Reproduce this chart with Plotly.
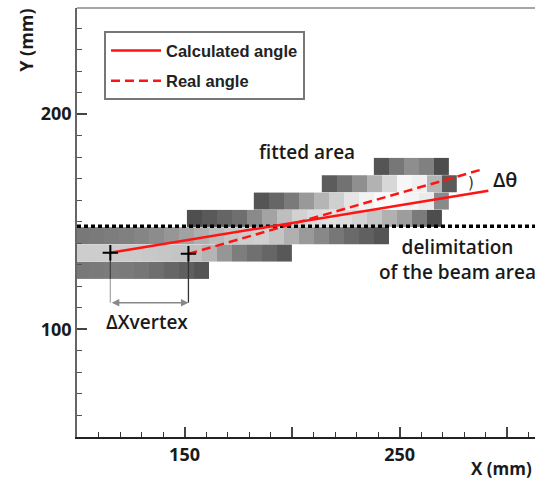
import plotly.graph_objects as go

# ---- data -------------------------------------------------------------
cell_w = 6.97          # pad width (mm)
cell_h = 8.05          # pad height (mm)

# pad rows, listed top to bottom: lower y edge, x of first pad, gray levels (0-255)
row_y = [171.6, 163.55, 155.5, 147.45, 139.4, 131.35, 123.3]
row_x0 = [238.0, 213.8, 182.2, 151.1, 98.6, 95.3, 98.6]
row1 = [85, 119, 142, 128, 77]
row2 = [92, 114, 143, 178, 215, 247, 240, 181, 90]
row3 = [85, 102, 122, 153, 181, 207, 229, 242, 250, 251, 244, 235, 138]
row4 = [79, 89, 101, 111, 138, 163, 190, 210, 220, 226, 222, 212, 197, 177, 157, 123, 77]
row5 = [120, 122, 125, 128, 133, 140, 150, 162, 175, 188, 198, 205, 208, 196, 176, 154, 136, 119, 106, 96, 85]
row6 = [205, 205, 205, 203, 202, 200, 198, 196, 192, 180, 150, 125, 112, 102, 88]
row7 = [120, 122, 124, 122, 118, 110, 102, 95, 85]
rows = [row1, row2, row3, row4, row5, row6, row7]

# fitted tracks (x, y in mm)
calc_x = [115.5, 291.2]
calc_y = [135.6, 164.4]
real_x = [151.8, 288.9]
real_y = [135.1, 174.5]

beam_limit_y = 147.9
vertex_bracket_y = 112.4

x_range = [100, 312.9]
y_range = [50, 249.3]

# ---- figure -------------------------------------------------------------
fig = go.Figure()

for yb, x0, vals in zip(row_y, row_x0, rows):
    xedges = [x0 + i * cell_w for i in range(len(vals) + 1)]
    fig.add_trace(go.Heatmap(
        x=xedges, y=[yb, yb + cell_h], z=[vals],
        zmin=0, zmax=255,
        colorscale=[[0, "black"], [1, "white"]],
        showscale=False, hoverinfo="skip", showlegend=False))

# delimitation of the beam area
fig.add_trace(go.Scatter(
    x=x_range, y=[beam_limit_y, beam_limit_y], mode="lines",
    line=dict(color="black", width=3.5, dash="4px,3px"),
    showlegend=False, hoverinfo="skip"))

# vertical guides of ΔXvertex
fig.add_trace(go.Scatter(
    x=[calc_x[0], calc_x[0]], y=[calc_y[0], row_y[-1]], mode="lines",
    line=dict(color="#444", width=1.3), showlegend=False, hoverinfo="skip"))
fig.add_trace(go.Scatter(
    x=[calc_x[0], calc_x[0]], y=[row_y[-1], vertex_bracket_y], mode="lines",
    line=dict(color="#aaaaaa", width=1.3), showlegend=False, hoverinfo="skip"))
fig.add_trace(go.Scatter(
    x=[real_x[0], real_x[0]], y=[real_y[0], vertex_bracket_y], mode="lines",
    line=dict(color="#333", width=1.3), showlegend=False, hoverinfo="skip"))

fig.add_trace(go.Scatter(
    x=calc_x, y=calc_y, mode="lines", name="Calculated angle",
    line=dict(color="#ff1414", width=2.5), legendgroup="a"))
fig.add_trace(go.Scatter(
    x=real_x, y=real_y, mode="lines", name="Real angle",
    line=dict(color="#ff1414", width=2.5, dash="9px,5px"), legendgroup="b"))

fig.add_trace(go.Scatter(
    x=[calc_x[0], real_x[0]], y=[calc_y[0], real_y[0]], mode="markers",
    marker=dict(symbol="cross-thin", size=11, line=dict(color="black", width=2)),
    showlegend=False, hoverinfo="skip"))

txt = dict(family="Open Sans", size=19, color="#1a1a1a", weight=600)

annotations = [
    # ΔXvertex double arrow
    dict(x=real_x[0], y=vertex_bracket_y, ax=calc_x[0], ay=vertex_bracket_y,
         xref="x", yref="y", axref="x", ayref="y", text="",
         showarrow=True, arrowhead=2, arrowside="end+start", arrowsize=1,
         arrowwidth=1.5, arrowcolor="#888"),
    dict(x=132.5, y=103.4, xref="x", yref="y", text="ΔXvertex", showarrow=False,
         font=txt),
    dict(x=207.0, y=182.5, xref="x", yref="y", text="fitted area", showarrow=False,
         font=txt),
    dict(x=277.1, y=132.4, xref="x", yref="y",
         text="delimitation<br>of the beam area", showarrow=False,
         align="center", font=txt),
    dict(x=298.8, y=169.5, xref="x", yref="y", text="Δθ", showarrow=False,
         font=dict(family="Open Sans", size=20, color="#1a1a1a", weight=600)),
    dict(x=283.2, y=168.0, xref="x", yref="y", text=")", showarrow=False,
         font=dict(family="DejaVu Sans", size=15, color="#333")),
    # axis titles
    dict(x=-0.113, y=0.924, xref="paper", yref="paper", text="Y (mm)", showarrow=False,
         xanchor="center", yanchor="middle",
         textangle=-90, font=dict(family="Open Sans", size=18, color="#1a1a1a", weight=700)),
    dict(x=0.998, y=-0.074, xref="paper", yref="paper", text="X (mm)", showarrow=False,
         xanchor="right", yanchor="middle",
         font=dict(family="Open Sans", size=17, color="#1a1a1a", weight=700)),
]

tickfont = dict(family="Open Sans", size=18, color="#1a1a1a", weight=700)

fig.update_layout(
    width=535, height=481,
    margin=dict(l=77, r=0, t=8, b=44, pad=0),
    paper_bgcolor="white", plot_bgcolor="white",
    annotations=annotations,
    shapes=[dict(type="line", xref="paper", yref="paper", x0=0, x1=1, y0=1, y1=1,
                 line=dict(color="#888", width=1.5))],
    legend=dict(x=0.059, y=0.946, xanchor="left", yanchor="top",
                bgcolor="white", bordercolor="#777", borderwidth=2,
                font=dict(family="Liberation Sans", size=16.5, color="#222", weight=700),
                tracegroupgap=6, itemwidth=50),
    xaxis=dict(range=x_range, showgrid=False, zeroline=False,
               showline=True, linecolor="#222", linewidth=2,
               ticks="inside", ticklen=10, tickwidth=1.5, tickcolor="#444",
               tickmode="array", tickvals=[150, 200, 250, 300],
               ticktext=["150", "", "250", ""], tickfont=tickfont,
               minor=dict(ticks="inside", ticklen=5, tickwidth=1.2, tickcolor="#333",
                          tickmode="linear", tick0=0, dtick=10, showgrid=False)),
    yaxis=dict(range=y_range, showgrid=False, zeroline=False,
               showline=True, linecolor="#666", linewidth=1.5,
               ticks="inside", ticklen=10, tickwidth=1.5, tickcolor="#444",
               tickmode="array", tickvals=[100, 200], ticktext=["100", "200"],
               tickfont=tickfont,
               minor=dict(ticks="inside", ticklen=5, tickwidth=1.2, tickcolor="#555",
                          tickmode="linear", tick0=0, dtick=10, showgrid=False)),
)

fig.write_html("out.html", config={"displayModeBar": False},
               post_script="document.body.style.margin='0';document.body.style.overflow='hidden';")
